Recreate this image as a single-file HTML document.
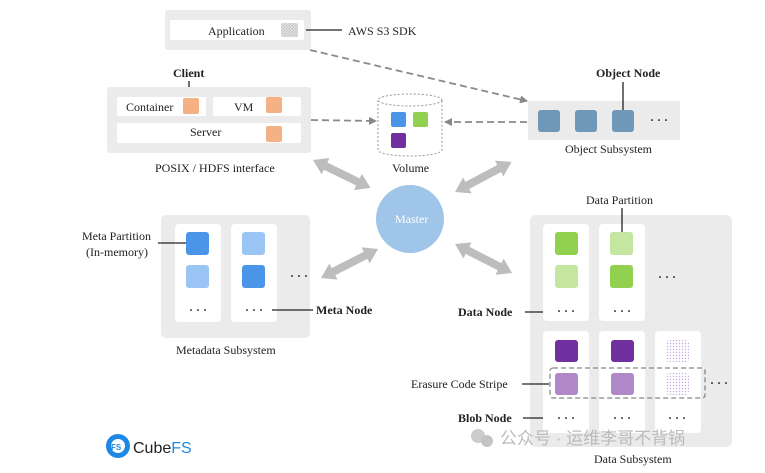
<!DOCTYPE html>
<html><head><meta charset="utf-8"><style>
body{margin:0;background:#fff;}
svg text{font-family:"Liberation Serif",serif;font-size:12px;fill:#222;}
.d{font-weight:bold;fill:#333;}
</style></head><body>
<svg width="765" height="468" xmlns="http://www.w3.org/2000/svg">
<defs>
<pattern id="hatch" width="3" height="3" patternUnits="userSpaceOnUse"><rect width="3" height="3" fill="#e4e4e4"/><path d="M0,3 L3,0" stroke="#bbb" stroke-width="0.8"/></pattern>
<pattern id="dots" width="3" height="3" patternUnits="userSpaceOnUse"><rect width="3" height="3" fill="#fff"/><circle cx="1.5" cy="1.5" r="0.7" fill="#c8a8e0"/></pattern>
<marker id="ah" markerWidth="8" markerHeight="8" refX="7" refY="4" orient="auto" markerUnits="userSpaceOnUse"><path d="M0,0 L8,4 L0,8 z" fill="#888"/></marker>
<g id="dbl"><path d="M0,0 L14,-9 L14,-4 L50,-4 L50,-9 L64,0 L50,9 L50,4 L14,4 L14,9 z" fill="#bdbdbd"/></g>
</defs>
<!-- Application -->
<rect x="165" y="10" width="146" height="40" rx="3" fill="#ebebeb"/>
<rect x="170" y="20" width="134" height="20" rx="2" fill="#fff"/>
<text x="208" y="35">Application</text>
<rect x="281" y="23" width="17" height="14" rx="2" fill="url(#hatch)"/>
<line x1="306" y1="30" x2="342" y2="30" stroke="#222" stroke-width="1.3"/>
<text x="348" y="35">AWS S3 SDK</text>
<!-- Client -->
<text x="173" y="77" font-weight="bold">Client</text>
<line x1="189" y1="81" x2="189" y2="98" stroke="#222" stroke-width="1.3"/>
<rect x="107" y="87" width="204" height="66" rx="3" fill="#ebebeb"/>
<rect x="117" y="97" width="89" height="19" rx="2" fill="#fff"/>
<rect x="213" y="97" width="88" height="19" rx="2" fill="#fff"/>
<rect x="117" y="123" width="184" height="20" rx="2" fill="#fff"/>
<text x="126" y="111">Container</text>
<text x="234" y="111">VM</text>
<text x="190" y="136">Server</text>
<rect x="183" y="98" width="16" height="16" rx="2" fill="#f4b183"/>
<rect x="266" y="97" width="16" height="16" rx="2" fill="#f4b183"/>
<rect x="266" y="126" width="16" height="16" rx="2" fill="#f4b183"/>
<text x="155" y="172">POSIX / HDFS interface</text>
<!-- Volume -->
<path d="M378,100 L378,150 A32,6 0 0 0 442,150 L442,100" fill="#fff" stroke="#999" stroke-dasharray="2,2"/>
<ellipse cx="410" cy="100" rx="32" ry="6" fill="#fff" stroke="#999" stroke-dasharray="2,2"/>
<rect x="391" y="112" width="15" height="15" rx="2" fill="#4a95e8"/>
<rect x="413" y="112" width="15" height="15" rx="2" fill="#92d050"/>
<rect x="391" y="133" width="15" height="15" rx="2" fill="#7030a0"/>
<text x="392" y="172">Volume</text>
<!-- dashed connectors -->
<line x1="311" y1="120" x2="376" y2="121" stroke="#8a8a8a" stroke-width="1.8" stroke-dasharray="7,4" marker-end="url(#ah)"/>
<line x1="527" y1="122" x2="445" y2="122" stroke="#8a8a8a" stroke-width="1.8" stroke-dasharray="7,4" marker-end="url(#ah)"/>
<line x1="310" y1="50" x2="527" y2="101" stroke="#8a8a8a" stroke-width="1.8" stroke-dasharray="7,4" marker-end="url(#ah)"/>
<!-- Object -->
<text x="596" y="77" font-weight="bold">Object Node</text>
<rect x="528" y="101" width="152" height="39" rx="2" fill="#ebebeb"/>
<line x1="623" y1="82" x2="623" y2="111" stroke="#222" stroke-width="1.3"/>
<rect x="538" y="110" width="22" height="22" rx="3" fill="#6f97b8"/>
<rect x="575" y="110" width="22" height="22" rx="3" fill="#6f97b8"/>
<rect x="612" y="110" width="22" height="22" rx="3" fill="#6f97b8"/>
<text x="650" y="124" class="d">· · ·</text>
<text x="565" y="153">Object Subsystem</text>
<!-- Master -->
<circle cx="410" cy="219" r="34" fill="#9fc5e8"/>
<text x="395" y="223" style="fill:#fff" font-size="11">Master</text>
<!-- double arrows -->
<use href="#dbl" transform="translate(313,160) rotate(26)"/>
<use href="#dbl" transform="translate(455,192) rotate(-28)"/>
<use href="#dbl" transform="translate(321,278) rotate(-27)"/>
<use href="#dbl" transform="translate(455,244) rotate(27)"/>
<!-- Meta -->
<rect x="161" y="215" width="149" height="123" rx="5" fill="#ebebeb"/>
<rect x="175" y="224" width="46" height="98" rx="4" fill="#fff"/>
<rect x="231" y="224" width="46" height="98" rx="4" fill="#fff"/>
<rect x="186" y="232" width="23" height="23" rx="3" fill="#4a95e8"/>
<rect x="186" y="265" width="23" height="23" rx="3" fill="#9ac5f5"/>
<rect x="242" y="232" width="23" height="23" rx="3" fill="#9ac5f5"/>
<rect x="242" y="265" width="23" height="23" rx="3" fill="#4a95e8"/>
<text x="189" y="314" class="d">· · ·</text>
<text x="245" y="314" class="d">· · ·</text>
<text x="290" y="280" class="d">· · ·</text>
<line x1="272" y1="310" x2="313" y2="310" stroke="#222" stroke-width="1.3"/>
<text x="316" y="314" font-weight="bold">Meta Node</text>
<text x="82" y="240">Meta Partition</text>
<text x="86" y="256">(In-memory)</text>
<line x1="158" y1="243" x2="186" y2="243" stroke="#222" stroke-width="1.3"/>
<text x="176" y="354">Metadata Subsystem</text>
<!-- Data -->
<text x="586" y="204">Data Partition</text>
<rect x="530" y="215" width="202" height="232" rx="6" fill="#ebebeb"/>
<rect x="543" y="224" width="46" height="97" rx="4" fill="#fff"/>
<rect x="599" y="224" width="46" height="97" rx="4" fill="#fff"/>
<rect x="543" y="331" width="46" height="102" rx="4" fill="#fff"/>
<rect x="599" y="331" width="46" height="102" rx="4" fill="#fff"/>
<rect x="655" y="331" width="46" height="102" rx="4" fill="#fff"/>
<line x1="622" y1="208" x2="622" y2="233" stroke="#222" stroke-width="1.3"/>
<rect x="555" y="232" width="23" height="23" rx="3" fill="#92d050"/>
<rect x="555" y="265" width="23" height="23" rx="3" fill="#c5e6a0"/>
<rect x="610" y="232" width="23" height="23" rx="3" fill="#c5e6a0"/>
<rect x="610" y="265" width="23" height="23" rx="3" fill="#92d050"/>
<text x="658" y="281" class="d">· · ·</text>
<text x="557" y="315" class="d">· · ·</text>
<text x="613" y="315" class="d">· · ·</text>
<line x1="525" y1="312" x2="543" y2="312" stroke="#222" stroke-width="1.3"/>
<text x="458" y="316" font-weight="bold">Data Node</text>
<rect x="555" y="340" width="23" height="22" rx="3" fill="#7030a0"/>
<rect x="611" y="340" width="23" height="22" rx="3" fill="#7030a0"/>
<rect x="666" y="340" width="23" height="22" rx="3" fill="url(#dots)"/>
<rect x="555" y="373" width="23" height="22" rx="3" fill="#b088c8"/>
<rect x="611" y="373" width="23" height="22" rx="3" fill="#b088c8"/>
<rect x="666" y="373" width="23" height="22" rx="3" fill="url(#dots)"/>
<rect x="550" y="368" width="155" height="30" rx="3" fill="none" stroke="#888" stroke-width="1.3" stroke-dasharray="5,3"/>
<text x="710" y="387" class="d">· · ·</text>
<text x="411" y="388">Erasure Code Stripe</text>
<line x1="522" y1="384" x2="549" y2="384" stroke="#222" stroke-width="1.3"/>
<text x="458" y="422" font-weight="bold">Blob Node</text>
<line x1="523" y1="418" x2="543" y2="418" stroke="#222" stroke-width="1.3"/>
<text x="557" y="422" class="d">· · ·</text>
<text x="613" y="422" class="d">· · ·</text>
<text x="668" y="422" class="d">· · ·</text>
<text x="594" y="463">Data Subsystem</text>
<!-- watermark -->
<circle cx="478" cy="436" r="7" fill="#ccc"/>
<circle cx="487" cy="441" r="6" fill="#c4c4c4"/>
<text x="500" y="444" style="fill:#bbb;font-family:'Liberation Sans','Noto Sans CJK SC',sans-serif;font-size:17px">公众号 · 运维李哥不背锅</text>
<!-- CubeFS logo -->
<circle cx="118" cy="446" r="12" fill="#1e88e5"/>
<circle cx="118" cy="446" r="7" fill="#fff"/>
<text x="111" y="450" style="fill:#1e88e5;font-family:'Liberation Sans',sans-serif;font-size:8px;font-weight:bold">FS</text>
<text x="133" y="453" style="font-family:'Liberation Sans',sans-serif;font-size:16px;fill:#222">Cube<tspan style="fill:#1e88e5">FS</tspan></text>
</svg>
</body></html>
